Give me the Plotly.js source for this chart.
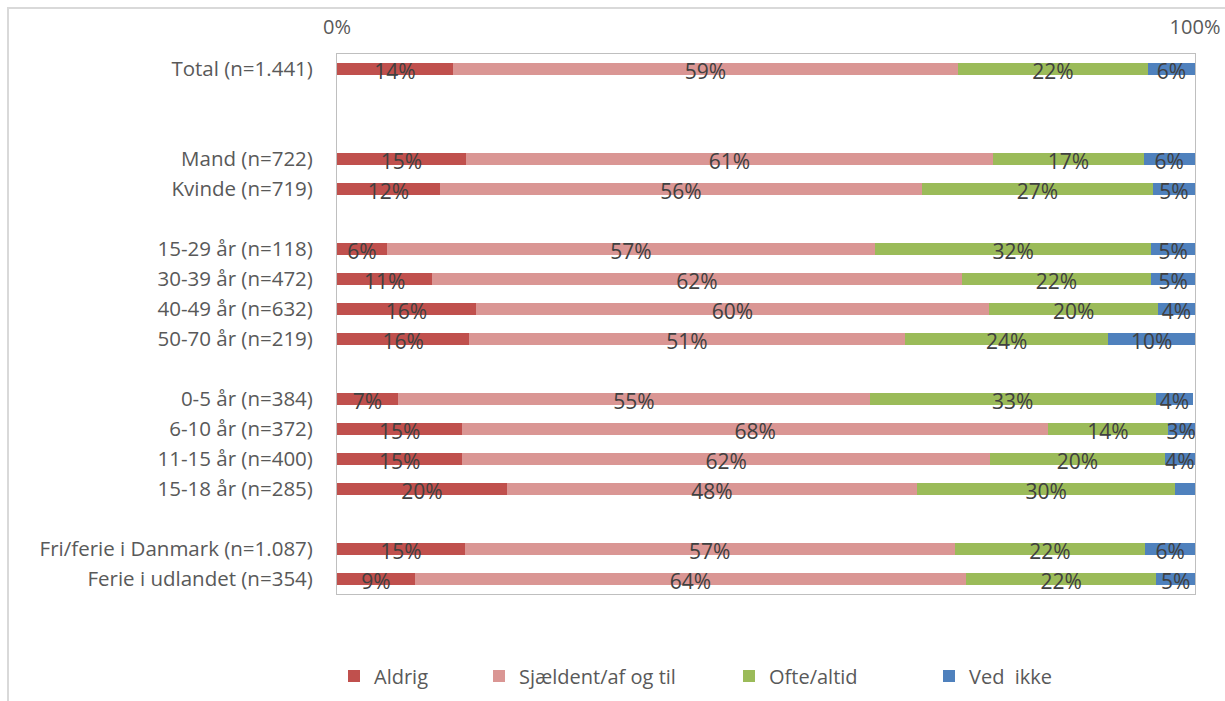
<!DOCTYPE html>
<html>
<head>
<meta charset="utf-8">
<script src="https://cdn.plot.ly/plotly-3.0.1.min.js"></script>
<style>html,body{margin:0;padding:0;background:#fff;}#chart{width:1225px;height:701px;}</style>
</head>
<body>
<div id="chart"></div>
<script>
// Categories (blank rows are spacer rows)
const categories = [
  "Total (n=1.441)", " ", "  ",
  "Mand (n=722)", "Kvinde (n=719)", "   ",
  "15-29 år (n=118)", "30-39 år (n=472)", "40-49 år (n=632)", "50-70 år (n=219)", "    ",
  "0-5 år (n=384)", "6-10 år (n=372)", "11-15 år (n=400)", "15-18 år (n=285)", "     ",
  "Fri/ferie i Danmark (n=1.087)", "Ferie i udlandet (n=354)"
];
const seriesNames = ["Aldrig", "Sjældent/af og til", "Ofte/altid", "Ved  ikke"];
// Shares (percent), null for spacer rows
const aldrig    = [13.5, null, null, 15.0, 12.0, null, 5.8, 11.1, 16.2, 15.4, null, 7.1, 14.6, 14.6, 19.8, null, 14.9, 9.1];
const sjaeldent = [58.9, null, null, 61.5, 56.2, null, 56.9, 61.7, 59.8, 50.8, null, 55.0, 68.3, 61.5, 47.8, null, 57.1, 64.2];
const ofte      = [22.1, null, null, 17.5, 26.9, null, 32.2, 22.1, 19.7, 23.7, null, 33.3, 13.9, 20.4, 30.1, null, 22.2, 22.2];
const vedIkke   = [5.5,  null, null, 6.0,  4.9,  null, 5.1,  5.1,  4.3,  10.1, null, 4.4,  3.2,  3.5,  2.3,  null, 5.8,  4.5];
// Data labels as printed on the chart ("" = no label)
const lblAldrig    = ["14%","","","15%","12%","","6%","11%","16%","16%","","7%","15%","15%","20%","","15%","9%"];
const lblSjaeldent = ["59%","","","61%","56%","","57%","62%","60%","51%","","55%","68%","62%","48%","","57%","64%"];
const lblOfte      = ["22%","","","17%","27%","","32%","22%","20%","24%","","33%","14%","20%","30%","","22%","22%"];
const lblVedIkke   = ["6%","","","6%","5%","","5%","5%","4%","10%","","4%","3%","4%","","","6%","5%"];

const colors = ["#C0504D", "#DA9694", "#9BBB59", "#4F81BD"];
const series = [aldrig, sjaeldent, ofte, vedIkke];
const labels = [lblAldrig, lblSjaeldent, lblOfte, lblVedIkke];
const legendIds = ["legend", "legend2", "legend3", "legend4"];
const FONT = "'Open Sans', Lato, sans-serif";

const traces = [];
series.forEach((vals, i) => {
  traces.push({
    type: "bar", orientation: "h", name: seriesNames[i],
    y: categories, x: vals, width: 0.4,
    marker: {color: colors[i], line: {width: 0}},
    legend: legendIds[i],
    hoverinfo: "skip"
  });
});
// label positions: mid-point of each stacked segment (row index on overlay axis)
const cum = categories.map(() => 0);
series.forEach((vals, i) => {
  const xs = [], ys = [], ts = [];
  vals.forEach((v, j) => {
    if (v === null) return;
    xs.push(cum[j] + v / 2);
    ys.push(j);
    ts.push(labels[i][j]);
    cum[j] += v;
  });
  traces.push({
    type: "scatter", mode: "text", x: xs, y: ys, yaxis: "y2", text: ts,
    textposition: "middle center",
    textfont: {family: FONT, size: 21, color: "#404040"},
    showlegend: false, hoverinfo: "skip"
  });
});

const W = 858, H = 540, L = 337, T = 54;
const px2x = p => (p - L) / W;
const py2y = p => (T + H - p) / H;
const legendStarts = [334, 479, 729, 929];
const legendBase = {
  orientation: "h", xanchor: "left", yanchor: "middle",
  xref: "container", yref: "container", y: 1 - 676 / 701,
  font: {family: FONT, size: 20, color: "#595959"}, bgcolor: "rgba(0,0,0,0)", borderwidth: 0
};

const layout = {
  width: 1225, height: 701,
  margin: {l: L, r: 1225 - L - W, t: T, b: 701 - T - H, autoexpand: false},
  barmode: "stack",
  paper_bgcolor: "#fff", plot_bgcolor: "#fff",
  font: {family: FONT, color: "#595959", size: 20},
  xaxis: {
    side: "top", range: [0, 100], tickvals: [0, 100], ticktext: ["0%", "100%"],
    showgrid: false, zeroline: false, showline: true, mirror: true, automargin: false,
    linecolor: "#BFBFBF", linewidth: 1, ticks: "", ticklabelstandoff: 11,
    tickfont: {family: FONT, size: 20, color: "#595959"}, fixedrange: true
  },
  yaxis: {
    type: "category", categoryorder: "array", categoryarray: categories,
    autorange: false, range: [17.5, -0.5],
    showgrid: false, zeroline: false, showline: true, mirror: true, automargin: false,
    linecolor: "#BFBFBF", linewidth: 1, ticks: "", ticklabelstandoff: 19,
    tickfont: {family: FONT, size: 20.5, color: "#595959"}, fixedrange: true
  },
  yaxis2: {
    overlaying: "y", type: "linear", autorange: false, range: [17.35, -0.65],
    showgrid: false, zeroline: false, showline: false, showticklabels: false,
    automargin: false, fixedrange: true
  },
  showlegend: true,
  legend:  Object.assign({}, legendBase, {x: legendStarts[0] / 1225}),
  legend2: Object.assign({}, legendBase, {x: legendStarts[1] / 1225}),
  legend3: Object.assign({}, legendBase, {x: legendStarts[2] / 1225}),
  legend4: Object.assign({}, legendBase, {x: legendStarts[3] / 1225}),
  shapes: [{
    type: "rect", xref: "paper", yref: "paper",
    x0: px2x(8), x1: px2x(1240),
    y0: py2y(710), y1: py2y(8),
    line: {color: "#D9D9D9", width: 2}, fillcolor: "rgba(0,0,0,0)", layer: "below"
  }]
};
Plotly.newPlot("chart", traces, layout, {displayModeBar: false, staticPlot: true});
</script>
</body>
</html>
